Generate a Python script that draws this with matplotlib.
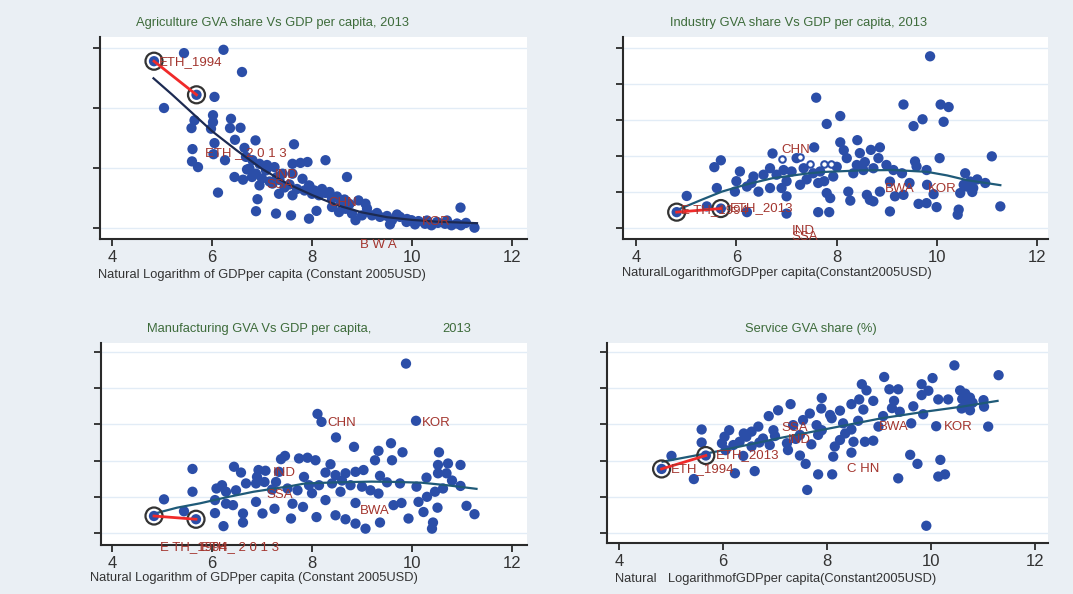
import matplotlib
matplotlib.use('Agg')
import matplotlib.pyplot as plt

plt.rcParams['font.family'] = ['Liberation Sans', 'DejaVu Sans']

BG = '#eaeff4'
BLUE = '#2b4ea8'
LABEL = '#a3352e'
TITLE = '#3d6b3a'

# Agriculture GVA share
agr_x = [5.44, 6.23, 6.60, 5.04, 6.05, 5.65, 5.59, 6.02, 6.02, 5.98,
         6.38, 6.36, 6.57, 6.05, 6.46, 5.61, 5.60, 5.72, 6.03, 6.26,
         6.65, 6.87, 7.64, 8.27, 6.68, 6.81, 6.95, 6.75, 6.45, 6.62,
         6.88, 7.08, 7.25, 7.61, 7.77, 7.91, 7.41, 7.61, 7.81, 6.95,
         7.21, 7.34, 6.12, 6.91, 6.88, 7.28, 7.58, 7.94, 7.61, 7.94,
         8.00, 8.14, 8.09, 8.27, 8.40, 8.57, 8.67, 8.70, 8.93, 9.07,
         8.80, 9.00, 9.20, 9.36, 9.60, 9.76, 9.89, 9.99, 10.13, 10.26,
         10.39, 10.52, 10.66, 10.97, 10.98, 11.08, 11.25, 8.87, 8.54, 8.40,
         9.56, 10.06, 10.79, 8.20, 8.35, 8.50, 8.65, 8.75, 9.10, 9.30,
         9.50, 9.70, 9.90, 10.30, 10.50, 10.70, 10.90, 7.00, 7.15, 7.30,
         7.45, 7.70, 7.85, 7.95, 8.05, 6.70, 6.80, 7.10, 7.35, 7.55]
agr_y = [58.3, 59.4, 52.0, 40.0, 43.7, 35.9, 33.3, 37.6, 35.3, 33.1,
         36.4, 33.3, 33.4, 28.3, 29.4, 26.3, 22.2, 20.3, 24.6, 22.6,
         26.7, 29.2, 27.9, 22.6, 23.7, 22.6, 21.4, 19.8, 17.0, 16.1,
         18.1, 19.2, 20.3, 21.4, 21.7, 22.0, 18.1, 18.1, 16.4, 14.2,
         14.8, 11.4, 11.8, 9.6, 5.6, 4.8, 4.2, 3.1, 10.9, 14.2,
         11.4, 10.9, 5.7, 11.7, 9.8, 8.7, 6.4, 17.0, 9.2, 8.1,
         4.8, 4.2, 4.2, 3.7, 2.6, 3.7, 2.0, 2.6, 2.3, 1.4,
         0.9, 1.7, 1.4, 6.8, 0.9, 1.7, 0.1, 2.6, 5.3, 7.0,
         1.2, 1.2, 0.9, 13.0, 12.0, 10.5, 9.5, 8.0, 6.5, 5.0,
         4.0, 4.5, 3.0, 2.5, 2.0, 2.5, 1.5, 16.5, 15.5, 17.0,
         13.5, 13.0, 12.5, 14.0, 12.5, 19.5, 17.0, 21.0, 16.0, 14.5]
agr_fit_x = [4.83, 5.2, 5.6, 6.0, 6.5, 7.0, 7.5, 8.0, 8.5, 9.0, 9.5, 10.0, 10.5, 11.0, 11.3]
agr_fit_y = [49.9, 44.5, 38.4, 32.3, 25.8, 19.7, 14.8, 11.0, 7.6, 5.2, 3.6, 2.7, 2.1, 1.8, 1.6]
agr_eth_x = [4.84, 5.69]
agr_eth_y = [55.6, 44.4]
agr_labels = ['ETH_1994', 'ETH _ 2 0 1 3', 'IND', 'SSA', 'CHN', 'KOR', 'B W A']
agr_lab_x = [4.93, 5.87, 7.25, 7.09, 8.32, 10.19, 8.97]
agr_lab_y = [55.3, 25.0, 17.6, 14.2, 8.4, 2.0, -5.6]

# Industry GVA share
ind_x = [9.86, 7.59, 9.33, 10.07, 10.23, 8.07, 7.80, 9.71, 9.53, 10.13,
         8.07, 8.41, 7.55, 8.14, 8.46, 8.68, 8.86, 8.20, 8.56, 8.83,
         6.72, 5.69, 5.56, 10.05, 11.09, 9.56, 7.20, 6.07, 6.34, 6.54,
         6.67, 6.80, 6.94, 7.10, 7.34, 7.53, 7.67, 7.93, 8.33, 8.53,
         8.73, 8.99, 9.13, 9.30, 9.59, 9.79, 10.56, 5.61, 5.97, 6.21,
         6.44, 6.67, 6.90, 7.00, 7.27, 7.63, 7.80, 7.87, 8.23, 8.27,
         8.60, 8.66, 8.73, 8.86, 9.06, 9.16, 9.33, 9.63, 9.79, 9.99,
         10.43, 10.41, 10.46, 10.59, 10.66, 10.72, 10.96, 11.26, 9.06, 7.63,
         7.85, 7.00, 6.21, 5.01, 5.41, 9.93, 10.53, 7.00, 7.40, 7.75,
         8.00, 8.40, 9.45, 9.80, 10.70, 10.80, 6.30, 6.00]
ind_y = [47.7, 36.2, 34.3, 34.3, 33.6, 31.1, 28.9, 30.2, 28.3, 29.5,
         23.8, 24.4, 22.4, 21.6, 20.8, 21.7, 22.4, 19.4, 18.3, 19.4,
         20.7, 18.8, 16.9, 19.4, 19.9, 18.5, 19.4, 15.7, 14.3, 14.8,
         16.6, 14.8, 16.1, 15.7, 16.6, 15.2, 15.7, 14.3, 15.2, 16.1,
         16.6, 17.5, 16.1, 15.2, 17.1, 16.1, 15.2, 11.1, 10.1, 11.5,
         10.1, 11.1, 11.1, 8.8, 12.0, 12.5, 9.7, 8.3, 10.1, 7.6,
         9.2, 7.8, 7.4, 10.1, 12.9, 8.8, 9.2, 6.7, 6.9, 5.8,
         5.1, 3.7, 9.7, 11.5, 12.9, 11.1, 12.5, 6.0, 4.6, 4.4,
         4.4, 4.0, 4.4, 8.9, 6.0, 9.4, 12.0, 13.0, 13.5, 13.0,
         17.0, 17.5, 12.5, 12.0, 10.0, 13.5, 12.5, 13.0]
ind_open_x = [6.90, 7.26, 7.46, 7.75, 7.88]
ind_open_y = [19.2, 19.6, 17.9, 17.7, 17.7]
ind_fit_x = [4.82, 5.3, 5.71, 6.2, 6.71, 7.44, 7.8, 8.5, 9.13, 9.8, 10.2, 10.59, 11.26]
ind_fit_y = [5.0, 7.8, 10.1, 12.1, 13.8, 15.2, 15.6, 16.0, 16.1, 15.6, 14.6, 13.3, 11.9]
ind_eth_x = [4.81, 5.69]
ind_eth_y = [4.4, 5.4]
ind_labels = ['CHN', 'BWA', 'KOR', 'E TH_1994', 'ETH_2013', 'IND', 'SSA']
ind_lab_x = [6.90, 8.96, 9.81, 4.90, 5.87, 7.10, 7.10]
ind_lab_y = [21.7, 10.9, 10.9, 4.9, 5.5, -0.7, -2.4]

# Manufacturing GVA share
mfg_x = [9.88, 8.11, 8.19, 10.08, 8.48, 8.84, 9.58, 9.81, 9.33, 10.54,
         7.46, 7.38, 7.74, 7.91, 8.07, 8.37, 9.26, 9.60, 10.52, 10.72,
         10.97, 5.61, 6.44, 6.58, 6.93, 7.07, 7.34, 7.84, 8.27, 8.47,
         8.67, 8.87, 9.03, 9.36, 10.29, 10.52, 10.69, 6.68, 6.88, 7.05,
         7.28, 7.51, 7.71, 7.94, 8.14, 8.40, 8.57, 8.77, 9.00, 9.17,
         9.33, 9.76, 10.09, 10.46, 10.62, 10.97, 6.09, 6.28, 6.48, 5.61,
         5.04, 6.06, 6.28, 6.42, 6.88, 7.25, 7.61, 7.82, 8.27, 8.87,
         9.63, 9.79, 10.13, 10.51, 11.09, 11.25, 5.44, 6.06, 6.62, 7.01,
         7.58, 8.09, 8.47, 8.67, 8.87, 9.07, 9.36, 9.93, 10.23, 10.42,
         10.40, 6.23, 6.62, 6.20, 6.90, 7.20, 8.00, 8.60, 9.50, 10.30,
         10.80]
mfg_y = [46.8, 32.9, 30.7, 31.0, 26.4, 23.8, 24.8, 22.3, 22.7, 22.3,
         21.3, 20.4, 20.6, 20.8, 20.1, 19.0, 20.1, 20.1, 18.8, 19.2,
         18.8, 17.7, 18.3, 16.7, 17.4, 17.2, 16.9, 15.5, 16.7, 16.0,
         16.5, 16.9, 17.4, 15.8, 15.3, 16.5, 16.5, 13.7, 13.7, 14.1,
         14.1, 12.3, 11.8, 13.2, 13.2, 13.7, 11.4, 13.2, 12.8, 11.8,
         10.9, 13.7, 12.8, 11.4, 12.3, 13.0, 12.3, 11.4, 11.8, 11.4,
         9.3, 9.1, 8.1, 7.7, 8.6, 6.7, 8.1, 7.2, 9.1, 8.3,
         7.7, 8.3, 8.6, 7.0, 7.5, 5.2, 6.0, 5.5, 5.4, 5.4,
         4.0, 4.4, 4.9, 3.8, 2.6, 1.2, 2.9, 4.0, 5.8, 2.9,
         1.2, 1.9, 2.9, 13.2, 15.5, 12.0, 11.0, 14.5, 14.0, 10.0,
         14.5]
mfg_fit_x = [4.86, 5.3, 5.76, 6.3, 6.83, 7.59, 7.86, 8.5, 9.19, 9.7, 10.19, 10.7, 11.29]
mfg_fit_y = [5.4, 7.0, 8.2, 9.9, 11.4, 13.0, 13.7, 14.0, 14.2, 14.1, 13.9, 13.2, 12.2]
mfg_eth_x = [4.84, 5.68]
mfg_eth_y = [4.7, 3.8]
mfg_labels = ['CHN', 'KOR', 'IND', 'SSA', 'BWA', 'E TH_1994', 'ETH_ 2 0 1 3']
mfg_lab_x = [8.30, 10.19, 7.21, 7.08, 8.95, 4.96, 5.79]
mfg_lab_y = [30.3, 30.3, 16.7, 10.4, 6.0, -3.9, -3.9]

# Service GVA share
srv_x = [10.45, 11.30, 9.10, 8.67, 10.03, 9.82, 9.20, 9.37, 8.76, 9.95,
         7.90, 7.30, 8.62, 8.89, 9.29, 9.82, 10.14, 10.33, 10.56, 10.66,
         10.75, 10.69, 11.01, 11.02, 10.59, 10.75, 7.06, 6.88, 7.89, 8.25,
         8.47, 8.70, 9.08, 9.66, 9.40, 9.85, 7.67, 8.09, 8.31, 7.54,
         7.35, 6.97, 6.68, 6.55, 6.45, 6.32, 6.12, 6.03, 5.98, 6.20,
         6.77, 6.90, 7.23, 7.25, 7.48, 7.59, 7.83, 7.90, 8.25, 8.15,
         8.12, 8.47, 8.51, 8.73, 8.89, 8.47, 8.99, 9.62, 10.10, 11.10,
         9.60, 9.74, 10.18, 10.14, 10.27, 9.37, 9.91, 7.62, 7.83, 8.10,
         6.61, 6.23, 5.44, 5.59, 5.59, 5.01, 6.05, 6.39, 6.55, 7.48,
         7.80, 8.06, 6.40, 6.70, 7.00, 7.40, 7.70, 8.35, 8.60, 9.25,
         10.60, 10.80]
srv_y = [46.3, 43.6, 43.1, 41.1, 42.8, 41.1, 39.7, 39.7, 39.4, 39.3,
         37.3, 35.6, 36.9, 36.5, 36.5, 38.1, 36.9, 36.9, 39.4, 38.5,
         37.4, 35.8, 36.7, 34.9, 34.4, 33.9, 33.9, 32.3, 34.4, 33.8,
         35.6, 34.1, 32.3, 35.0, 33.5, 32.8, 33.0, 31.7, 30.3, 31.2,
         29.8, 28.4, 29.4, 28.0, 26.6, 25.2, 28.4, 26.6, 24.8, 24.3,
         26.1, 24.3, 24.8, 22.9, 21.4, 19.1, 27.1, 28.4, 25.7, 23.9,
         21.1, 22.2, 25.2, 25.2, 25.5, 28.6, 29.4, 30.3, 29.5, 29.4,
         21.6, 19.1, 20.2, 15.6, 16.2, 15.1, 2.0, 11.9, 16.2, 16.2,
         17.1, 16.5, 14.9, 25.0, 28.6, 21.3, 22.9, 21.3, 23.9, 27.1,
         29.8, 32.6, 27.5, 25.0, 26.8, 26.0, 24.5, 27.5, 31.0, 34.5,
         37.0, 36.0]
srv_fit_x = [4.84, 5.87, 7.08, 7.8, 9.05, 9.88, 10.59, 11.28]
srv_fit_y = [19.7, 22.5, 26.2, 28.2, 31.7, 33.5, 34.9, 36.5]
srv_eth_x = [4.82, 5.67]
srv_eth_y = [17.7, 21.4]
srv_labels = ['SSA', 'IND', 'ETH_2013', 'ETH_1994', 'BWA', 'KOR', 'C HN']
srv_lab_x = [7.13, 7.25, 5.86, 4.99, 8.99, 10.24, 8.38]
srv_lab_y = [28.9, 25.7, 21.4, 17.7, 29.4, 29.4, 17.7]

W, H = 1073, 594


def make_axes(fig, left, top, right, bottom):
    return fig.add_axes([left / W, 1 - bottom / H, (right - left) / W, (bottom - top) / H])


def draw(ax, xs, ys, fx, fy, fcol, ex, ey, labs, lx, ly, xlim, ylim, yticks):
    ax.set_facecolor('white')
    ax.set_xlim(xlim)
    ax.set_ylim(ylim)
    ax.set_yticks(yticks)
    ax.set_yticklabels([])
    ax.set_xticks([4, 6, 8, 10, 12])
    ax.yaxis.grid(True, color='#e2ecf6', lw=1.0)
    ax.set_axisbelow(True)
    for s in ['top', 'right']:
        ax.spines[s].set_visible(False)
    for s in ['left', 'bottom']:
        ax.spines[s].set_color('#2a2a2a')
        ax.spines[s].set_linewidth(1.5)
    ax.tick_params(axis='y', length=5, width=1.3, color='#2a2a2a')
    ax.tick_params(axis='x', length=5, width=1.3, color='#2a2a2a',
                   labelsize=12, labelcolor='#333333', pad=3)
    ax.scatter(xs, ys, s=55, color=BLUE, edgecolors='none', zorder=3)
    ax.plot(fx, fy, color=fcol, lw=1.6, zorder=4)
    ax.scatter(ex, ey, s=55, color=BLUE, edgecolors='none', zorder=5)
    ax.scatter(ex, ey, s=150, facecolors='none', edgecolors='#333333', linewidths=1.6, zorder=6)
    ax.plot(ex, ey, color='#f02a2a', lw=2.0, zorder=7)
    for t, x, y in zip(labs, lx, ly):
        ax.text(x, y, t, color=LABEL, fontsize=9.5, ha='left', va='center',
                zorder=8, clip_on=False)


fig = plt.figure(figsize=(W / 100, H / 100), dpi=100, facecolor=BG)

ax1 = make_axes(fig, 100, 37, 527, 239)
draw(ax1, agr_x, agr_y, agr_fit_x, agr_fit_y, '#1c2a52', agr_eth_x, agr_eth_y,
     agr_labels, agr_lab_x, agr_lab_y, (3.76, 12.3), (-3.67, 63.67), [0, 20, 40, 60])

ax2 = make_axes(fig, 623, 37, 1048, 239)
draw(ax2, ind_x, ind_y, ind_fit_x, ind_fit_y, '#1f5a78', ind_eth_x, ind_eth_y,
     ind_labels, ind_lab_x, ind_lab_y, (3.74, 12.21), (-3.06, 53.06), [0, 10, 20, 30, 40, 50])
ax2.scatter(ind_open_x, ind_open_y, s=22, facecolors='white', edgecolors=BLUE,
            linewidths=1.5, zorder=4)

ax3 = make_axes(fig, 101, 343, 527, 545)
draw(ax3, mfg_x, mfg_y, mfg_fit_x, mfg_fit_y, '#1f5a78', mfg_eth_x, mfg_eth_y,
     mfg_labels, mfg_lab_x, mfg_lab_y, (3.78, 12.3), (-3.31, 52.49), [0, 10, 20, 30, 40, 50])

ax4 = make_axes(fig, 607, 343, 1048, 543)
draw(ax4, srv_x, srv_y, srv_fit_x, srv_fit_y, '#1f5a78', srv_eth_x, srv_eth_y,
     srv_labels, srv_lab_x, srv_lab_y, (3.77, 12.25), (-2.76, 52.49), [0, 10, 20, 30, 40, 50])

# titles and axis titles, placed by pixel like the original layout
def ftext(px, py, s, **kw):
    fig.text(px / W, 1 - py / H, s, ha='left', va='center', **kw)


ftext(136, 23, 'Agriculture GVA share Vs GDP per capita, 2013', color=TITLE, fontsize=9.3)
ftext(670, 23, 'Industry GVA share Vs GDP per capita, 2013', color=TITLE, fontsize=9.3)
ftext(147, 329, 'Manufacturing GVA Vs GDP per capita,', color=TITLE, fontsize=9.3)
ftext(442, 329, '2013', color=TITLE, fontsize=9.3)
ftext(745, 329, 'Service GVA share (%)', color=TITLE, fontsize=9.3)

ftext(98, 275, 'Natural Logarithm of GDPper capita (Constant 2005USD)', color='#333333', fontsize=9.3)
ftext(622, 273, 'NaturalLogarithmofGDPper capita(Constant2005USD)', color='#333333', fontsize=9.3)
ftext(90, 578, 'Natural Logarithm of GDPper capita (Constant 2005USD)', color='#333333', fontsize=9.3)
ftext(615, 579, 'Natural', color='#333333', fontsize=9.3)
ftext(668, 579, 'LogarithmofGDPper capita(Constant2005USD)', color='#333333', fontsize=9.3)

fig.savefig('out.png', dpi=100, facecolor=BG)
